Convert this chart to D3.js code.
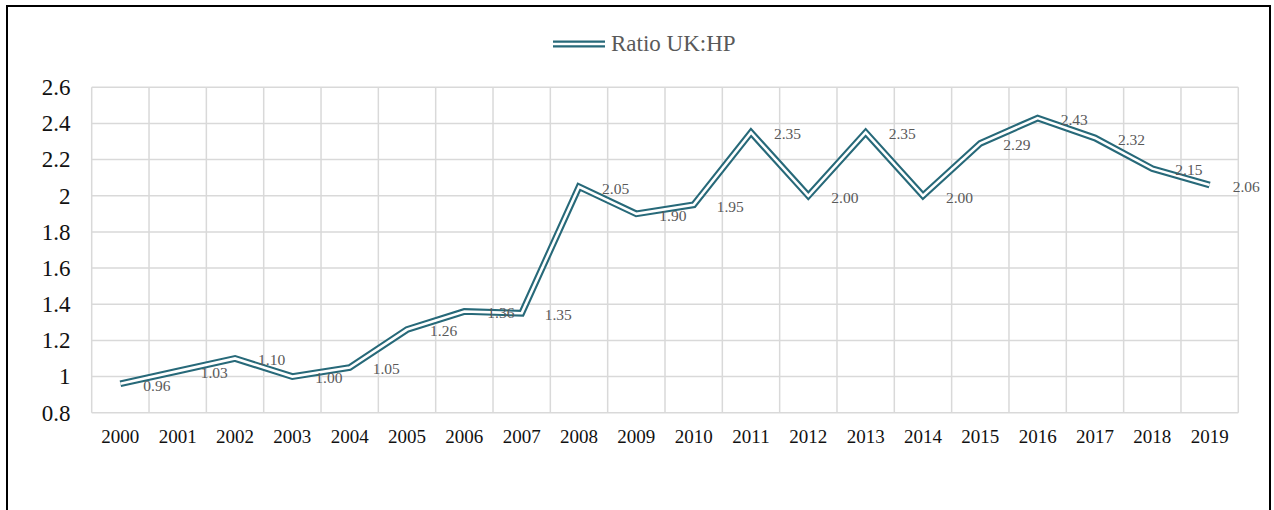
<!DOCTYPE html>
<html>
<head>
<meta charset="utf-8">
<script src="https://cdn.jsdelivr.net/npm/d3@7"></script>
<style>
html,body{margin:0;padding:0;background:#fff;}
svg{display:block;}
</style>
</head>
<body>
<svg id="chart" width="1274" height="510"></svg>
<script>
const years = ["2000","2001","2002","2003","2004","2005","2006","2007","2008","2009","2010","2011","2012","2013","2014","2015","2016","2017","2018","2019"];
const ratio = [0.96,1.03,1.10,1.00,1.05,1.26,1.36,1.35,2.05,1.90,1.95,2.35,2.00,2.35,2.00,2.29,2.43,2.32,2.15,2.06];
const yTicks = [0.8,1,1.2,1.4,1.6,1.8,2,2.2,2.4,2.6];
const seriesName = "Ratio UK:HP";

const svg = d3.select("#chart");
const teal = "#276979";
const font = "'Liberation Serif', 'Times New Roman', serif";

// outer frame
svg.append("rect").attr("x",7).attr("y",6).attr("width",1263).attr("height",520)
  .attr("fill","none").attr("stroke","#000").attr("stroke-width",2);

const x = d3.scaleBand().domain(years).range([91.7,1238.3]).padding(0);
const y = d3.scaleLinear().domain([0.8,2.6]).range([412.7,87.3]);

const g = svg.append("g");

// horizontal gridlines
g.selectAll(".hg").data(yTicks).enter().append("line")
  .attr("x1",x.range()[0]).attr("x2",x.range()[1])
  .attr("y1",d=>y(d)).attr("y2",d=>y(d))
  .attr("stroke","#d9d9d9").attr("stroke-width",1.5);

// vertical gridlines at band boundaries
const bounds = years.map(d=>x(d)).concat([x.range()[1]]);
g.selectAll(".vg").data(bounds).enter().append("line")
  .attr("x1",d=>d).attr("x2",d=>d)
  .attr("y1",y(2.6)).attr("y2",y(0.8))
  .attr("stroke","#d9d9d9").attr("stroke-width",1.5);

// y axis labels
g.selectAll(".yl").data(yTicks).enter().append("text")
  .attr("x",70.5).attr("y",d=>y(d)+7.8)
  .attr("text-anchor","end")
  .attr("font-family",font).attr("font-size",23).attr("fill","#111")
  .text(d=>d3.format("")(d));

// x axis labels
g.selectAll(".xl").data(years).enter().append("text")
  .attr("x",d=>x(d)+x.bandwidth()/2).attr("y",443)
  .attr("text-anchor","middle")
  .attr("font-family",font).attr("font-size",19).attr("fill","#111")
  .text(d=>d);

// double line
const line = d3.line().x((d,i)=>x(years[i])+x.bandwidth()/2).y(d=>y(d));
g.append("path").datum(ratio).attr("d",line)
  .attr("fill","none").attr("stroke",teal).attr("stroke-width",6.8).attr("stroke-linejoin","miter");
g.append("path").datum(ratio).attr("d",line)
  .attr("fill","none").attr("stroke","#fff").attr("stroke-width",2.6).attr("stroke-linejoin","miter");

// data labels
g.selectAll(".dl").data(ratio).enter().append("text")
  .attr("x",(d,i)=>x(years[i])+x.bandwidth()/2+23)
  .attr("y",d=>y(d)+6.8)
  .attr("font-family",font).attr("font-size",15.5).attr("fill","#595959")
  .text(d=>d.toFixed(2));

// legend
const lg = svg.append("g");
lg.append("line").attr("x1",553).attr("x2",605).attr("y1",44).attr("y2",44)
  .attr("stroke",teal).attr("stroke-width",6.8);
lg.append("line").attr("x1",553).attr("x2",605).attr("y1",44).attr("y2",44)
  .attr("stroke","#fff").attr("stroke-width",2.6);
lg.append("text").attr("x",611).attr("y",51)
  .attr("font-family",font).attr("font-size",23).attr("fill","#595959")
  .text(seriesName);
</script>
</body>
</html>
